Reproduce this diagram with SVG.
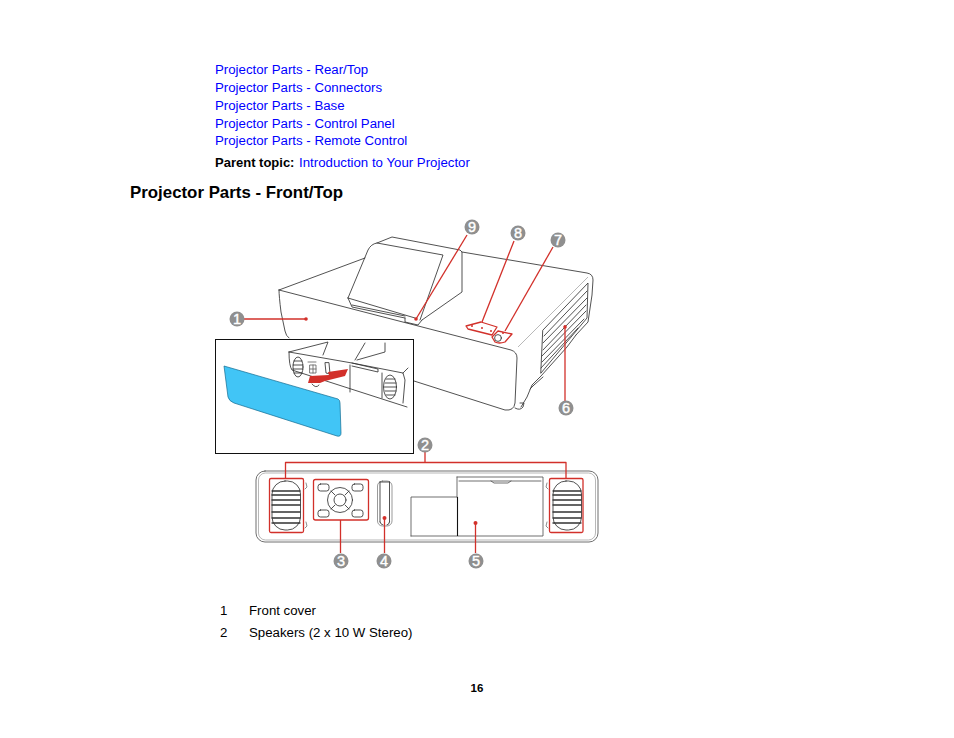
<svg xmlns="http://www.w3.org/2000/svg" width="954" height="738" viewBox="0 0 954 738">
<style>
text{font-family:"Liberation Sans",Arial,sans-serif;font-size:13.25px;fill:#000}
.link{fill:#0000ff}
.b{font-weight:700}
.l{fill:none;stroke:#333;stroke-width:.85;stroke-linejoin:round;stroke-linecap:round}
.g{fill:none;stroke:#999;stroke-width:.7}
.r{fill:none;stroke:#d2302a;stroke-width:1.3;stroke-linejoin:round}
.d{fill:#d2302a}
.bc{fill:#8f8f8f}
.bt{fill:#fff;stroke:#fff;stroke-width:.4;font-size:14.5px;text-anchor:middle}
</style>
<rect width="954" height="738" fill="#fff"/>
<g id="links">
<text class="link" x="215" y="74">Projector Parts - Rear/Top</text>
<text class="link" x="215" y="92">Projector Parts - Connectors</text>
<text class="link" x="215" y="110">Projector Parts - Base</text>
<text class="link" x="215" y="128">Projector Parts - Control Panel</text>
<text class="link" x="215" y="145">Projector Parts - Remote Control</text>
<text class="b" x="215" y="167" style="font-size:13px">Parent topic:</text>
<text class="link" x="299" y="167">Introduction to Your Projector</text>
</g>
<text id="heading" class="b" x="130" y="198" style="font-size:16.85px">Projector Parts - Front/Top</text>

<g id="projector">
<path class="l" d="M279 290 L365 258 M462 252 L587 273 Q593 274 593 280 L592 295 L588 322 L576 335 M279 290 L511 350 Q517 352 517 358 L515 403 Q514 411 505 410 L414 381 M279 290 Q279 296 281 312 L285 331 Q286 336 289 338"/>
<path class="l" d="M348 298 L368 250 Q371 244 377 243 L392 237 L460 250 L462 252 L462 292 L422 320 M377 243 L443 255 L420 320 M348 298 L352 307 L405 318 M348 298 L415 318 M405 318 V322 L418 325 L422 320 M352 305 L405 316"/>
<path class="g" d="M518 347 L588 277"/>
<path class="l" d="M543 330 L588 283 L587 318 L541 373 Z"/>
<path class="l" d="M544 336 L587 291 M543 343 L587 298 M543 350 L586 305 M542 356 L586 311 M542 362 L584 319 M541 368 L578 328"/>
<path class="l" d="M576 335 L567 347 L541 376 L532 385 L527 397 L521 407 M534 385 L543 377 M530 389 L534 385 M515 408 Q520 411 523 407 L524 403 L520 403"/>
</g>
<g id="callouts-top">
<path class="r" d="M243 319 H306"/><circle class="d" cx="306" cy="319" r="1.8"/>
<path class="r" d="M467 235 L416 319"/><circle class="d" cx="416" cy="319" r="1.8"/>
<path class="r" d="M514 241 L482 322"/>
<path class="r" d="M466 326 L481 322 L497 327 L492 335 L468 329Z"/>
<circle class="d" cx="472" cy="326" r="1"/><circle class="d" cx="482" cy="328" r="1"/><circle class="d" cx="491" cy="331" r="1"/>
<path class="r" d="M553 247 L505 331"/>
<path class="r" d="M498 331 L512 334 L505 342 Q499 344 495 342 L492 337Z"/>
<circle class="l" cx="498" cy="338" r="3.4"/><circle class="d" cx="503" cy="333" r="1"/>
<path class="r" d="M565 325 V401"/><circle class="d" cx="565" cy="327" r="1.8"/>
</g>

<g id="inset">
<rect x="215.500" y="339.500" width="198" height="114" fill="#fff" stroke="#111" stroke-width="1"/>
<path class="l" d="M289 352 L328 342 L323 355 M365 343 L355 360 M385 343 L385 352 L357 360 M289 352 L352 363 L403 373 L405 380 L403 403 M289 352 Q289 366 292 370 L407 407 M403 373 L408 368"/>
<path class="l" d="M350 365 V392 M382 373 V398 M352 363 L378 369 L378 372 L352 366"/>
<ellipse class="l" cx="298" cy="367" rx="5" ry="10"/>
<ellipse class="l" cx="390" cy="387" rx="6.500" ry="12"/>
<path class="l" d="M294 361 H302 M293 365 H303 M293 369 H303 M294 373 H302 M386 379 H395 M385 383 H396 M384 387 H396 M385 391 H396 M386 395 H395"/>
<path class="l" d="M325 363 L326 373 L330 374 L329 363Z"/>
<path class="l" d="M308 362 H316 M310 365 H316 V373 H310Z M313 365 V373 M310 369 H316" style="stroke:#666"/>
<path class="l" d="M312 384 Q316 389 319 385"/>
<path d="M348 369 L328 372 L329 375 L310 376 L308 383 L320 383 L325 381 L345 376Z" fill="#d2302a"/>
<path d="M224 366 L338 399 Q340 400 340 403 L341 433 Q341 437 337 436 L234 403 Q229 401 228 397Z" fill="#41c5f6" stroke="#136b90" stroke-width=".7"/>
</g>

<g id="front-panel">
<rect class="l" x="256" y="471" width="342" height="71" rx="9" style="stroke:#555"/>
<rect class="g" x="258.500" y="473" width="337" height="67" rx="7"/>
<path class="l" d="M411 536 V497 H457 M457 477 H543 V536 H411 M457 477 V497 M459 481 H541 M491 481 L494 483 H508 L511 481" style="stroke:#555"/>
<path d="M457.500 497 V536" stroke="#111" stroke-width="1.100"/>
<path class="l" d="M306 483 L307 487 L305 489 M306 522 L307 526 L305 528 M547 483 L546 487 L548 489 M547 522 L546 526 L548 528" style="stroke:#777"/>
<g id="speaker-left">
<rect class="l" x="272" y="481" width="28.500" height="49" rx="13"/>
<path class="l" d="M272 491 H300 M272 495 H300 M272 500 H300 M272 505 H300 M272 512 H300 M272 518 H300 M272 523 H300" style="stroke-width:1.300"/>
</g>
<g id="speaker-right">
<rect class="l" x="553" y="481" width="28.500" height="49" rx="13"/>
<path class="l" d="M553 491 H581 M553 495 H581 M553 500 H581 M553 505 H581 M553 512 H581 M553 518 H581 M553 523 H581" style="stroke-width:1.300"/>
</g>
<g id="controls">
<rect class="l" x="318" y="484" width="11" height="7" rx="2.500"/>
<rect class="l" x="352" y="484" width="11" height="7" rx="2.500"/>
<rect class="l" x="318" y="510" width="11" height="7" rx="2.500"/>
<rect class="l" x="352" y="510" width="11" height="7" rx="2.500"/>
<circle class="l" cx="340" cy="500" r="12.500"/>
<circle class="l" cx="340" cy="500" r="6"/>
<path class="l" d="M331 491 L335 495 M349 491 L345 495 M331 509 L335 505 M349 509 L345 505"/>
</g>
<rect class="l" x="377.500" y="481" width="14.500" height="45" rx="5" style="stroke:#888"/>
<path class="l" d="M380 482 V522 M389.500 482 V522 M380 482 H389.500 M380 522 Q381 525 383 525 M389.500 522 Q389 525 387 525"/>
</g>
<g id="callouts-bottom">
<path class="r" d="M425 452 V462 M285.500 478 V462.500 H566 V478"/>
<rect class="r" x="269.500" y="478.500" width="34" height="54" rx="1.500"/>
<rect class="r" x="549.500" y="478.500" width="33.500" height="54" rx="1.500"/>
<rect class="r" x="313.500" y="479.500" width="55" height="40.500" rx="2"/>
<path class="r" d="M340.500 520 V553"/>
<path class="r" d="M384.500 518 V553"/><circle class="d" cx="384.500" cy="518" r="2"/>
<path class="r" d="M475.500 523 V553"/><circle class="d" cx="475.500" cy="523" r="2"/>
</g>

<g id="badges">
<g id="badge-1"><circle class="bc" cx="237" cy="319" r="7.500"/><text class="bt" x="237" y="324">1</text></g>
<g id="badge-2"><circle class="bc" cx="425" cy="445" r="7.500"/><text class="bt" x="425" y="450">2</text></g>
<g id="badge-3"><circle class="bc" cx="341" cy="561" r="7.500"/><text class="bt" x="341" y="566">3</text></g>
<g id="badge-4"><circle class="bc" cx="384" cy="561" r="7.500"/><text class="bt" x="384" y="566">4</text></g>
<g id="badge-5"><circle class="bc" cx="476" cy="561" r="7.500"/><text class="bt" x="476" y="566">5</text></g>
<g id="badge-6"><circle class="bc" cx="566" cy="408" r="7.500"/><text class="bt" x="566" y="413">6</text></g>
<g id="badge-7"><circle class="bc" cx="558" cy="240" r="7.500"/><text class="bt" x="558" y="245">7</text></g>
<g id="badge-8"><circle class="bc" cx="518" cy="233" r="7.500"/><text class="bt" x="518" y="238">8</text></g>
<g id="badge-9"><circle class="bc" cx="472" cy="227" r="7.500"/><text class="bt" x="472" y="232">9</text></g>
</g>

<g id="legend">
<text x="220" y="615">1</text><text x="249" y="615">Front cover</text>
<text x="220" y="637">2</text><text x="249" y="637">Speakers (2 x 10 W Stereo)</text>
</g>
<text id="page" class="b" x="477" y="692" text-anchor="middle" style="font-size:11.500px">16</text>
</svg>
